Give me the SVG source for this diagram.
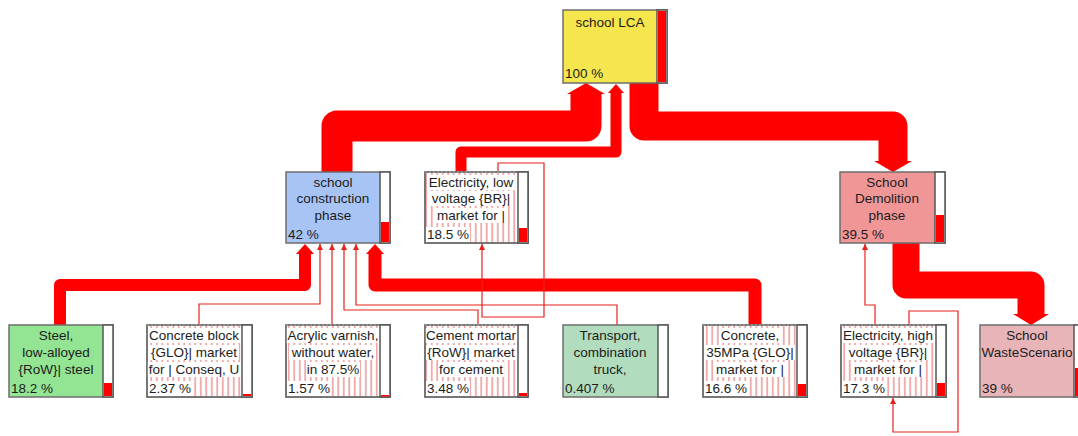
<svg xmlns="http://www.w3.org/2000/svg" width="1078" height="436" viewBox="0 0 1078 436">
<style>
.box{stroke:#6e6e6e;stroke-width:1.5}
.edge{fill:none;stroke:#6e6e6e;stroke-width:1.5}
.bar{fill:#fff;stroke:#555;stroke-width:1.5}
.lvl{fill:#ff0000}
.t{font-family:"Liberation Sans",Arial,sans-serif;font-size:13.5px;fill:#1c1c1c}
.c{text-anchor:middle}
.bg{fill:#fff;filter:url(#tbg)}
.thick{fill:none;stroke:#ff0000;stroke-linejoin:round;stroke-linecap:butt}
.thin{fill:none;stroke:#e8201c;stroke-width:1.2;marker-end:url(#ah)}
.dash{stroke:#999;stroke-width:1.5;stroke-dasharray:2 2}
</style>
<defs>
<pattern id="loops" patternUnits="userSpaceOnUse" width="5.5" height="10">
<line x1="2.75" y1="0" x2="2.75" y2="10" stroke="#e04848" stroke-width="0.9"/>
</pattern>
<filter id="tbg" x="-0.01" y="0" width="1.02" height="1">
<feFlood flood-color="#ffffff"/>
</filter>
<marker id="ah" markerUnits="userSpaceOnUse" markerWidth="6" markerHeight="6" refX="6" refY="3" orient="auto">
<path d="M0,0 L6,3 L0,6 z" fill="#e8201c"/>
</marker>
</defs>

<g id="connectors">
<path class="thick" stroke-width="31" d="M586,93 L586,126 L337,126 L337,172"/>
<polygon fill="#ff0000" points="567,94 586,83 605,94"/>
<path class="thick" stroke-width="11" d="M616,92 L616,152 L461,152 L461,172"/>
<polygon fill="#ff0000" points="608,93 616,84 624,93"/>
<path class="thick" stroke-width="29" d="M644,83 L644,126 L893,126 L893,163"/>
<polygon fill="#ff0000" points="874,161 893,172 912,161"/>
<path class="thick" stroke-width="27" d="M906,243 L906,285 L1031,285 L1031,316"/>
<polygon fill="#ff0000" points="1013,314 1031,325 1049,314"/>
<path class="thick" stroke-width="12" d="M60,325 L60,285 L305,285 L305,253"/>
<polygon fill="#ff0000" points="296,254 305,244 314,254"/>
<path class="thick" stroke-width="13" d="M755,325 L755,285 L375,285 L375,253"/>
<polygon fill="#ff0000" points="366,254 375,244 384,254"/>
<path class="thin" d="M199,325 V304 H320 V244"/>
<path class="thin" d="M332,325 V244"/>
<path class="thin" stroke-width="2.5" d="M478,325 V310 H344 V244"/>
<path class="thin" d="M617,325 V305 H356 V244"/>
<path class="thin" d="M498,172 V163 H544 V317 H482 V244"/>
<path class="thin" d="M875,325 V305 H865 V244"/>
<path class="thin" d="M909,325 V311 H958 V432 H893 V398"/>
</g>

<g id="node-school-lca">
<rect class="box" x="563" y="10" width="104" height="73" fill="#f4e64c"/>
<rect class="bar" x="657" y="10" width="10" height="73"/>
<rect class="lvl" x="658" y="11" width="8" height="71"/>
<text class="t c" x="610" y="27">school LCA</text>
<text class="t" x="565" y="78">100 %</text>
</g>

<g id="node-construction">
<rect class="box" x="286" y="172" width="104" height="71" fill="#a8c4f4"/>
<rect class="bar" x="380" y="172" width="10" height="71"/>
<rect class="lvl" x="381" y="222" width="8" height="20"/>
<text class="t c" x="333" y="187">school</text>
<text class="t c" x="333" y="203">construction</text>
<text class="t c" x="333" y="220">phase</text>
<text class="t" x="288" y="239">42 %</text>
</g>

<g id="node-electricity-low">
<rect class="box" x="425" y="172" width="103" height="71" fill="#fff"/>
<rect x="426" y="173" width="92" height="69" fill="url(#loops)"/>
<text class="t c bg" x="471" y="187">Electricity, low</text>
<text class="t c bg" x="471" y="203">voltage {BR}|</text>
<text class="t c bg" x="471" y="220">market for |</text>
<text class="t bg" x="427" y="239">18.5 %</text>
<rect class="edge" x="425" y="172" width="103" height="71"/>
<line class="dash" x1="425" y1="172" x2="518" y2="172"/>
<rect class="bar" x="518" y="172" width="10" height="71"/>
<rect class="lvl" x="519" y="228" width="8" height="14"/>
<text class="t c" x="471" y="187">Electricity, low</text>
<text class="t c" x="471" y="203">voltage {BR}|</text>
<text class="t c" x="471" y="220">market for |</text>
<text class="t" x="427" y="239">18.5 %</text>
</g>

<g id="node-demolition">
<rect class="box" x="840" y="172" width="105" height="71" fill="#f19696"/>
<rect class="bar" x="935" y="172" width="10" height="71"/>
<rect class="lvl" x="936" y="215" width="8" height="27"/>
<text class="t c" x="887" y="187">School</text>
<text class="t c" x="887" y="203">Demolition</text>
<text class="t c" x="887" y="220">phase</text>
<text class="t" x="842" y="239">39.5 %</text>
</g>

<g id="node-steel">
<rect class="box" x="9" y="325" width="104" height="72" fill="#93e493"/>
<rect class="bar" x="103" y="325" width="10" height="72"/>
<rect class="lvl" x="104" y="383" width="8" height="13"/>
<text class="t c" x="56" y="340">Steel,</text>
<text class="t c" x="56" y="357">low-alloyed</text>
<text class="t c" x="56" y="374">{RoW}| steel</text>
<text class="t" x="11" y="393">18.2 %</text>
</g>

<g id="node-concrete-block">
<rect class="box" x="147" y="325" width="105" height="72" fill="#fff"/>
<rect x="148" y="326" width="94" height="70" fill="url(#loops)"/>
<text class="t c bg" x="194" y="340">Concrete block</text>
<text class="t c bg" x="194" y="357">{GLO}| market</text>
<text class="t c bg" x="194" y="374">for | Conseq, U</text>
<text class="t bg" x="149" y="393">2.37 %</text>
<rect class="edge" x="147" y="325" width="105" height="72"/>
<line class="dash" x1="147" y1="325" x2="242" y2="325"/>
<rect class="bar" x="242" y="325" width="10" height="72"/>
<rect class="lvl" x="243" y="394" width="8" height="2"/>
<text class="t c" x="194" y="340">Concrete block</text>
<text class="t c" x="194" y="357">{GLO}| market</text>
<text class="t c" x="194" y="374">for | Conseq, U</text>
<text class="t" x="149" y="393">2.37 %</text>
</g>

<g id="node-acrylic">
<rect class="box" x="286" y="325" width="104" height="72" fill="#fff"/>
<rect x="287" y="326" width="93" height="70" fill="url(#loops)"/>
<text class="t c bg" x="333" y="340">Acrylic varnish,</text>
<text class="t c bg" x="333" y="357">without water,</text>
<text class="t c bg" x="333" y="374">in 87.5%</text>
<text class="t bg" x="288" y="393">1.57 %</text>
<rect class="edge" x="286" y="325" width="104" height="72"/>
<line class="dash" x1="286" y1="325" x2="380" y2="325"/>
<rect class="bar" x="380" y="325" width="10" height="72"/>
<rect class="lvl" x="381" y="395" width="8" height="1.5"/>
<text class="t c" x="333" y="340">Acrylic varnish,</text>
<text class="t c" x="333" y="357">without water,</text>
<text class="t c" x="333" y="374">in 87.5%</text>
<text class="t" x="288" y="393">1.57 %</text>
</g>

<g id="node-cement-mortar">
<rect class="box" x="425" y="325" width="103" height="72" fill="#fff"/>
<rect x="426" y="326" width="92" height="70" fill="url(#loops)"/>
<text class="t c bg" x="471" y="340">Cement mortar</text>
<text class="t c bg" x="471" y="357">{RoW}| market</text>
<text class="t c bg" x="471" y="374">for cement</text>
<text class="t bg" x="427" y="393">3.48 %</text>
<rect class="edge" x="425" y="325" width="103" height="72"/>
<line class="dash" x1="425" y1="325" x2="518" y2="325"/>
<rect class="bar" x="518" y="325" width="10" height="72"/>
<rect class="lvl" x="519" y="393" width="8" height="3"/>
<text class="t c" x="471" y="340">Cement mortar</text>
<text class="t c" x="471" y="357">{RoW}| market</text>
<text class="t c" x="471" y="374">for cement</text>
<text class="t" x="427" y="393">3.48 %</text>
</g>

<g id="node-transport">
<rect class="box" x="563" y="325" width="105" height="72" fill="#b2dcbe"/>
<rect class="bar" x="658" y="325" width="10" height="72"/>
<text class="t c" x="610" y="340">Transport,</text>
<text class="t c" x="610" y="357">combination</text>
<text class="t c" x="610" y="374">truck,</text>
<text class="t" x="565" y="393">0.407 %</text>
</g>

<g id="node-concrete-35mpa">
<rect class="box" x="703" y="325" width="104" height="72" fill="#fff"/>
<rect x="704" y="326" width="93" height="70" fill="url(#loops)"/>
<text class="t c bg" x="750" y="340">Concrete,</text>
<text class="t c bg" x="750" y="357">35MPa {GLO}|</text>
<text class="t c bg" x="750" y="374">market for |</text>
<text class="t bg" x="705" y="393">16.6 %</text>
<rect class="edge" x="703" y="325" width="104" height="72"/>
<line class="dash" x1="703" y1="325" x2="797" y2="325"/>
<rect class="bar" x="797" y="325" width="10" height="72"/>
<rect class="lvl" x="798" y="384" width="8" height="12"/>
<text class="t c" x="750" y="340">Concrete,</text>
<text class="t c" x="750" y="357">35MPa {GLO}|</text>
<text class="t c" x="750" y="374">market for |</text>
<text class="t" x="705" y="393">16.6 %</text>
</g>

<g id="node-electricity-high">
<rect class="box" x="841" y="325" width="105" height="72" fill="#fff"/>
<rect x="842" y="326" width="94" height="70" fill="url(#loops)"/>
<text class="t c bg" x="888" y="340">Electricity, high</text>
<text class="t c bg" x="888" y="357">voltage {BR}|</text>
<text class="t c bg" x="888" y="374">market for |</text>
<text class="t bg" x="843" y="393">17.3 %</text>
<rect class="edge" x="841" y="325" width="105" height="72"/>
<line class="dash" x1="841" y1="325" x2="936" y2="325"/>
<rect class="bar" x="936" y="325" width="10" height="72"/>
<rect class="lvl" x="937" y="383" width="8" height="13"/>
<text class="t c" x="888" y="340">Electricity, high</text>
<text class="t c" x="888" y="357">voltage {BR}|</text>
<text class="t c" x="888" y="374">market for |</text>
<text class="t" x="843" y="393">17.3 %</text>
</g>

<g id="node-waste-scenario">
<rect class="box" x="980" y="325" width="104" height="72" fill="#e8b4b8"/>
<rect class="bar" x="1074" y="325" width="10" height="72"/>
<rect class="lvl" x="1075" y="368" width="8" height="28"/>
<text class="t c" x="1027" y="340">School</text>
<text class="t c" x="1027" y="357">WasteScenario</text>
<text class="t" x="982" y="393">39 %</text>
</g>
</svg>
